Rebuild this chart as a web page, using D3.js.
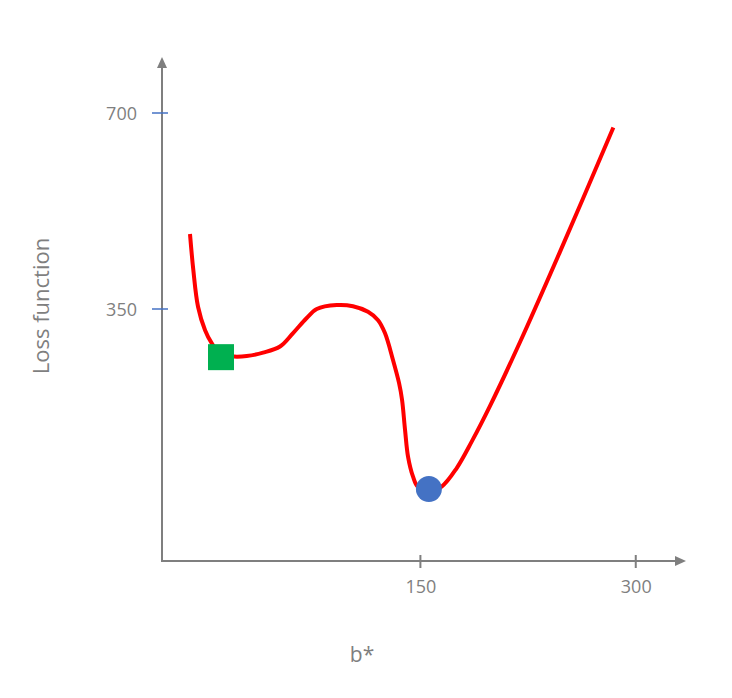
<!DOCTYPE html>
<html>
<head>
<meta charset="utf-8">
<script src="https://cdn.jsdelivr.net/npm/d3@7"></script>
<style>
  html, body { margin: 0; padding: 0; background: #ffffff; }
  svg { display: block; }
  text { font-family: "Open Sans", "Liberation Sans", sans-serif; fill: #7f7f7f; }
</style>
</head>
<body>
<svg id="chart" width="732" height="698"></svg>
<script>
// ---- data ----
const curveX = [-10.5, -8.2, -4.9, 0, 4.6, 11.1, 20.2, 29, 40.4, 52.2, 61.3, 70.8, 77.8, 91.7, 103, 113.5, 120.5, 125.3, 130.9, 135.1, 137.2, 139.3, 141.4, 144.8, 148.3, 155.9, 164.8, 175.3, 185.9, 198.5, 219.4, 247.2, 284.4];
const curveY = [484, 420, 354, 312, 289, 268, 265, 266, 272, 283, 307, 334, 350, 357, 355, 345, 330, 307, 259, 218, 188, 134, 86, 51, 32, 25, 33, 66, 114, 177, 291, 452, 674];
const startPoint = { x: 11.1, y: 264 };   // green square
const minPoint = { x: 155.9, y: 28.6 };   // blue circle
const xTicks = [150, 300];
const yTicks = [350, 700];
const xLabel = "b*";
const yLabel = "Loss function";

// ---- scales ----
const x = d3.scaleLinear().domain([-30, 335]).range([162, 686]);
const y = d3.scaleLinear().domain([-100, 800]).range([561, 57]);

const svg = d3.select("#chart");
const axisColor = "#7f7f7f";

// axes lines
const x0 = x(-30), y0 = y(-100);
svg.append("line").attr("x1", x0).attr("y1", y0).attr("x2", x(335) - 9).attr("y2", y0)
  .attr("stroke", axisColor).attr("stroke-width", 2);
svg.append("line").attr("x1", x0).attr("y1", y0 + 1).attr("x2", x0).attr("y2", y(800) + 9)
  .attr("stroke", axisColor).attr("stroke-width", 2);
// arrowheads
svg.append("path")
  .attr("d", `M${x(335)},${y0} L${x(335) - 11},${y0 - 5} L${x(335) - 11},${y0 + 5} Z`)
  .attr("fill", axisColor);
svg.append("path")
  .attr("d", `M${x0},${y(800)} L${x0 - 5},${y(800) + 11} L${x0 + 5},${y(800) + 11} Z`)
  .attr("fill", axisColor);

// x ticks
const xAxis = d3.axisBottom(x).tickValues(xTicks).tickSize(0).tickPadding(0).tickFormat(d3.format("d"));
const gx = svg.append("g").attr("transform", `translate(0,${y0})`).call(xAxis);
gx.select(".domain").remove();
gx.selectAll("text").attr("dy", null).attr("y", 32).style("font-size", "18px")
  .attr("fill", axisColor).attr("font-family", '"Open Sans", sans-serif');
svg.selectAll(".xtick").data(xTicks).enter().append("line")
  .attr("x1", d => x(d)).attr("x2", d => x(d))
  .attr("y1", y0 - 6).attr("y2", y0 + 7)
  .attr("stroke", axisColor).attr("stroke-width", 2);

// y ticks
const yAxis = d3.axisLeft(y).tickValues(yTicks).tickSize(0).tickPadding(0).tickFormat(d3.format("d"));
const gy = svg.append("g").attr("transform", `translate(${x0},0)`).call(yAxis);
gy.select(".domain").remove();
gy.selectAll("text").attr("x", -25).attr("dy", "0.35em").style("font-size", "18px")
  .attr("fill", axisColor).attr("font-family", '"Open Sans", sans-serif');
svg.selectAll(".ytick").data(yTicks).enter().append("line")
  .attr("x1", x0 - 10).attr("x2", x0 + 6)
  .attr("y1", d => y(d)).attr("y2", d => y(d))
  .attr("stroke", "#4472c4").attr("stroke-width", 1.5);

// curve
const pts = curveX.map((v, i) => [v, curveY[i]]);
const line = d3.line().x(d => x(d[0])).y(d => y(d[1])).curve(d3.curveCatmullRom.alpha(0.5));
svg.append("path").datum(pts).attr("d", line)
  .attr("fill", "none").attr("stroke", "#ff0000").attr("stroke-width", 4)
  .attr("stroke-linecap", "butt").attr("stroke-linejoin", "round");

// markers
svg.append("rect")
  .attr("x", x(startPoint.x) - 13).attr("y", y(startPoint.y) - 13)
  .attr("width", 26).attr("height", 26).attr("fill", "#00b050");
svg.append("circle")
  .attr("cx", x(minPoint.x)).attr("cy", y(minPoint.y)).attr("r", 13)
  .attr("fill", "#4472c4");

// axis titles
svg.append("text").attr("x", 362).attr("y", 662).attr("text-anchor", "middle")
  .style("font-size", "21px").text(xLabel);
svg.append("text").attr("transform", "translate(49,306) rotate(-90)")
  .attr("text-anchor", "middle").style("font-size", "22px").text(yLabel);
</script>
</body>
</html>
